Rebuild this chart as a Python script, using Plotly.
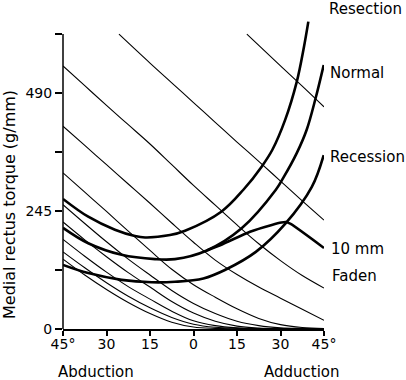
import plotly.graph_objects as go

# ---- data ----
x_grid = [-45, -37.5, -30, -22.5, -15, -7.5, 0, 7.5, 15, 22.5, 30, 37.5, 45]

# thin lines (antagonist length-tension curves)
t1_x = [18.4, 30, 37.5, 45]
t1_y = [612, 546, 504, 461]
t2_x = [-25.7, -15, -7.5, 0, 7.5, 15, 22.5, 30, 37.5, 45]
t2_y = [612, 552, 511, 470, 429, 388, 348, 307, 266, 226]
l1_y = [546, 505, 464, 424, 384, 341, 298, 257, 216, 177, 142, 111, 85]
l2_y = [421, 381, 341, 301, 261, 220, 180, 143, 113, 87, 64, 41, 18]
l3_y = [324, 284, 244, 203, 163, 124, 92, 66, 42, 22, 9, 3, 1]
l4_y = [258, 219, 181, 145, 112, 80, 53, 32, 16, 7, 2.5, 1, 0.3]
l5_y = [222, 185, 150, 117, 87, 57, 33, 16, 6, 2, 0.7, 0.2, 0]
l6_y = [186, 151, 118, 88, 62, 37, 17, 7, 2.5, 0.8, 0.2, 0, 0]
l7_y = [160, 127, 96, 68, 44, 24, 10, 3.5, 1.2, 0.4, 0, 0, 0]
l8_y = [145, 112, 82, 55, 32, 14, 4, 1.2, 0.4, 0.1, 0, 0, 0]

# thick curves (medial rectus)
res_x = [-45, -36.3, -27.1, -20.2, -16.7, -8.1, -2.9, 9.7, 17.2, 23.5, 27.2, 31.6, 35.6, 38.1, 39.6]
res_y = [270, 233, 206, 193, 190, 195, 204, 244, 289, 337, 372, 434, 513, 586, 638]
nor_x = [-45, -36.3, -24.8, -13.3, -6.4, 4.6, 16.6, 28.4, 31, 35.6, 39, 42.1, 44.9]
nor_y = [210, 178, 154, 145, 145, 163, 209, 289, 314, 365, 413, 479, 548]
rec_x = [-45, -36.3, -24.8, -14.4, -6.4, 3.4, 11, 21.5, 31.6, 40.8, 44.9]
rec_y = [133, 116, 102, 97, 98, 105, 123, 160, 218, 295, 361]
fad_x = [4.6, 10, 19.5, 27, 30.3, 31.8, 33.5, 45]
fad_y = [163, 176, 202, 216, 221, 222, 218, 168]

x_ticks = [-45, -30, -15, 0, 15, 30, 45]
x_ticktext = ["45°", "30", "15", "0", "15", "30", "45°"]
y_ticks = [0, 122.5, 245, 367.5, 490, 612.5]
y_ticktext = ["0", "", "245", "", "490", ""]

curve_labels = ["Resection", "Normal", "Recession", "10 mm", "Faden"]

FONT = "DejaVu Sans"
fig = go.Figure()

thin_sets = [(t1_x, t1_y), (t2_x, t2_y)] + [(x_grid, yy) for yy in
             [l1_y, l2_y, l3_y, l4_y, l5_y, l6_y, l7_y, l8_y]]
for xx, yy in thin_sets:
    fig.add_trace(go.Scatter(x=xx, y=yy, mode="lines",
                             line=dict(color="black", width=1.1, shape="spline", smoothing=1.0),
                             hoverinfo="skip"))

for xx, yy, sm in [(res_x, res_y, 1.0), (nor_x, nor_y, 1.0), (rec_x, rec_y, 1.0), (fad_x, fad_y, 0.6)]:
    fig.add_trace(go.Scatter(x=xx, y=yy, mode="lines",
                             line=dict(color="black", width=2.6, shape="spline", smoothing=sm),
                             hoverinfo="skip"))

W, H = 406, 380
ML, MR, MT, MB = 63, 82, 11, 51
PW, PH = W - ML - MR, H - MT - MB

def px(xp):
    return (xp - ML) / PW

def py(yp):
    return (H - MB - yp) / PH

annos = []
label_pos = [(327, 9), (328, 73), (328, 157), (329, 249), (330, 276)]
for txt, (xp, yp) in zip(curve_labels, label_pos):
    annos.append(dict(x=px(xp), y=py(yp), xref="paper", yref="paper", text=txt,
                      showarrow=False, xanchor="left", yanchor="middle",
                      font=dict(family=FONT, size=15, color="black")))
annos.append(dict(x=px(95.5), y=py(372), xref="paper", yref="paper", text="Abduction",
                  showarrow=False, xanchor="center", yanchor="middle",
                  font=dict(family=FONT, size=15, color="black")))
annos.append(dict(x=px(302), y=py(372), xref="paper", yref="paper", text="Adduction",
                  showarrow=False, xanchor="center", yanchor="middle",
                  font=dict(family=FONT, size=15, color="black")))
annos.append(dict(x=px(9), y=py(205), xref="paper", yref="paper",
                  text="Medial rectus torque (g/mm)", textangle=-90,
                  showarrow=False, xanchor="center", yanchor="middle",
                  font=dict(family=FONT, size=16, color="black")))

fig.update_layout(
    width=W, height=H,
    margin=dict(l=ML, r=MR, t=MT, b=MB, pad=0),
    paper_bgcolor="white", plot_bgcolor="white",
    showlegend=False,
    annotations=annos,
    shapes=[dict(type="line", xref="paper", yref="y", x0=0, x1=0, y0=0, y1=612.5,
                 line=dict(color="black", width=1.5))],
    xaxis=dict(range=[-45, 45], tickvals=x_ticks, ticktext=x_ticktext,
               showline=True, linecolor="black", linewidth=1.5,
               ticks="outside", ticklen=5, tickwidth=1.5, tickcolor="black",
               ticklabelstandoff=-4,
               showgrid=False, zeroline=False,
               tickfont=dict(family=FONT, size=14, color="black")),
    yaxis=dict(range=[0, 660], tickvals=y_ticks, ticktext=y_ticktext,
               showline=False, ticks="outside", ticklen=7, tickwidth=1.5,
               tickcolor="black", showgrid=False, zeroline=False,
               tickfont=dict(family=FONT, size=14, color="black")),
)

fig.write_html(
    "out.html",
    config={"displayModeBar": False},
    post_script="document.body.style.margin='0';document.body.style.overflow='hidden';",
)
